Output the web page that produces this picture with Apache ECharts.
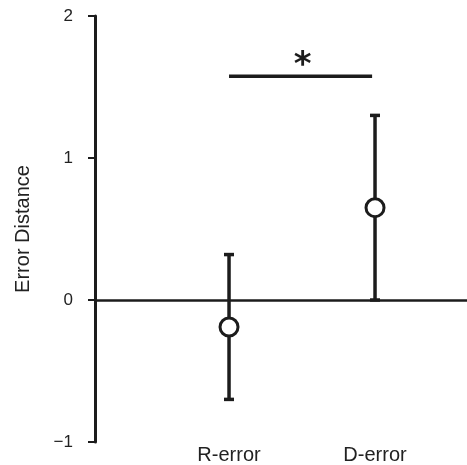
<!DOCTYPE html>
<html>
<head>
<meta charset="utf-8">
<script src="https://cdn.jsdelivr.net/npm/echarts@6/dist/echarts.min.js"></script>
<style>html,body{margin:0;padding:0;background:#fff;}#c{width:467px;height:465px;}</style>
</head>
<body>
<div id="c"></div>
<script>
// ---- data ----
var categories = ['R-error', 'D-error'];
var catPositions = [1, 2];
var means = [-0.19, 0.65];
var lowers = [-0.70, 0.00];
var uppers = [0.32, 1.30];
var yTicks = [-1, 0, 1, 2];
var yTickLabels = ['\u22121', '0', '1', '2'];
var sigBar = { from: 1.0, to: 1.98, y: 1.575, label: '*' };

var INK = '#1c1c1c';
var chart = echarts.init(document.getElementById('c'), null, { renderer: 'canvas' });

var errData = catPositions.map(function (p, i) { return [p, lowers[i], uppers[i]]; });
var meanData = catPositions.map(function (p, i) { return [p, means[i]]; });

var option = {
  animation: false,
  backgroundColor: '#fff',
  grid: { left: 95, right: 0, top: 16, bottom: 22, containLabel: false },
  xAxis: {
    type: 'value', min: 0.082, max: 2.63,
    axisLine: { show: false }, axisTick: { show: false }, splitLine: { show: false },
    axisLabel: {
      customValues: catPositions,
      formatter: function (v) { var i = catPositions.indexOf(v); return i >= 0 ? categories[i] : ''; },
      fontFamily: 'Liberation Sans', fontSize: 20, color: '#222', margin: 3
    }
  },
  yAxis: {
    type: 'value', min: -1, max: 2, interval: 1,
    name: 'Error Distance', nameLocation: 'middle', nameGap: 62,
    nameTextStyle: { fontFamily: 'Liberation Sans', fontSize: 20, color: '#222' },
    axisLine: { show: true, lineStyle: { color: INK, width: 3 } },
    axisTick: { show: true, length: 7, lineStyle: { color: INK, width: 2 } },
    splitLine: { show: false },
    axisLabel: {
      customValues: yTicks,
      formatter: function (v) { var i = yTicks.indexOf(v); return i >= 0 ? yTickLabels[i] : ''; },
      fontFamily: 'Liberation Sans', fontSize: 17, color: '#222', margin: 22
    }
  },
  series: [
    {
      type: 'custom', name: 'err', data: errData, z: 2,
      renderItem: function (params, api) {
        var x = api.value(0);
        var lo = api.coord([x, api.value(1)]);
        var hi = api.coord([x, api.value(2)]);
        var cw = 5;
        var st = { stroke: INK, lineWidth: 3.5 };
        return {
          type: 'group',
          children: [
            { type: 'line', shape: { x1: lo[0], y1: lo[1], x2: hi[0], y2: hi[1] }, style: st },
            { type: 'line', shape: { x1: lo[0] - cw, y1: lo[1], x2: lo[0] + cw, y2: lo[1] }, style: st },
            { type: 'line', shape: { x1: hi[0] - cw, y1: hi[1], x2: hi[0] + cw, y2: hi[1] }, style: st }
          ]
        };
      }
    },
    {
      type: 'scatter', name: 'mean', data: meanData, z: 5,
      symbol: 'circle', symbolSize: 18,
      itemStyle: { color: '#fff', borderColor: INK, borderWidth: 3, opacity: 1 },
      markLine: {
        silent: true, symbol: 'none', label: { show: false },
        lineStyle: { color: INK, width: 2.5, type: 'solid' },
        data: [{ yAxis: 0 }]
      }
    },
    {
      type: 'custom', name: 'sig', data: [[sigBar.from, sigBar.to, sigBar.y]], z: 3,
      renderItem: function (params, api) {
        var a = api.coord([api.value(0), api.value(2)]);
        var b = api.coord([api.value(1), api.value(2)]);
        return {
          type: 'group',
          children: [
            { type: 'line', shape: { x1: a[0], y1: a[1], x2: b[0], y2: b[1] }, style: { stroke: INK, lineWidth: 3.5 } },
            { type: 'text', style: { x: (a[0] + b[0]) / 2 + 2, y: a[1] + 7, text: sigBar.label, fill: INK,
              font: 'bold 34px "DejaVu Sans"', textAlign: 'center', textVerticalAlign: 'bottom' } }
          ]
        };
      }
    }
  ]
};
chart.setOption(option);
</script>
</body>
</html>
